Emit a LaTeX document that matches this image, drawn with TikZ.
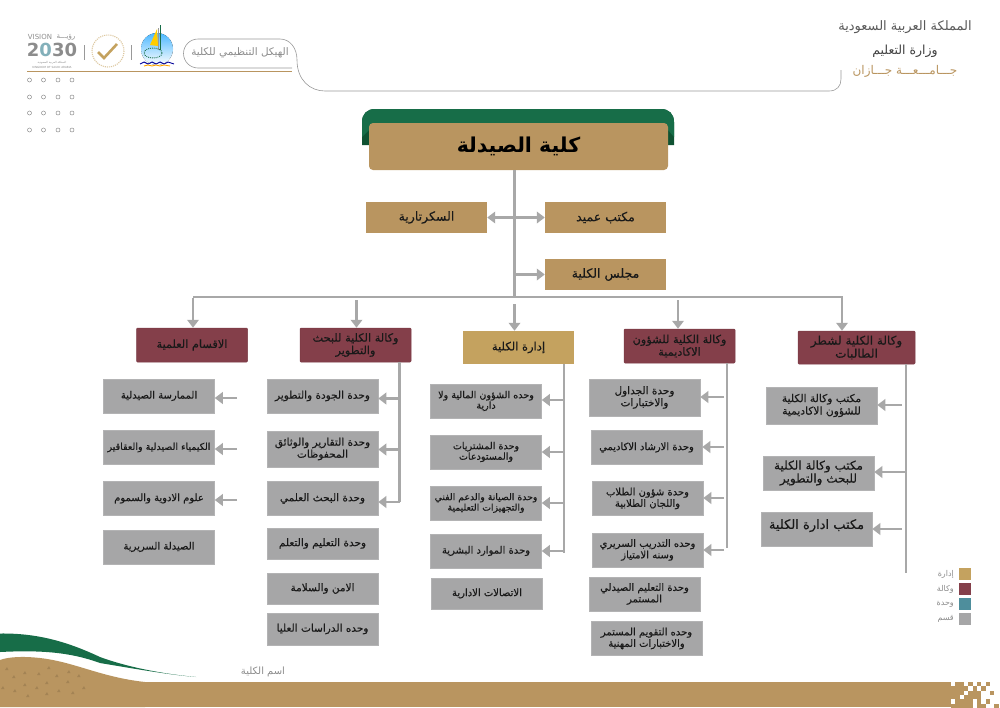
\documentclass[tikz,border=0pt]{standalone}
\usepackage{fontspec}
\setmainfont{DejaVu Sans}
\newfontfamily\arabicfont[Script=Arabic]{DejaVu Sans}
\newfontfamily\arabicheavy[Script=Arabic,FakeBold=0.35]{DejaVu Sans}
\TeXXeTstate=1
\usetikzlibrary{arrows.meta}
\definecolor{tanbox}{HTML}{B99560}
\definecolor{goldbox}{HTML}{C4A25F}
\definecolor{maroonbox}{HTML}{843F4A}
\definecolor{tealbox}{HTML}{4E8E9C}
\definecolor{graybox}{HTML}{A6A6A7}
\definecolor{linkgray}{HTML}{A8A8A8}
\definecolor{darkgreen}{HTML}{176D48}
\definecolor{deepgreen}{HTML}{0F5232}
\definecolor{softtext}{HTML}{8C8C8C}
\newcommand{\artxt}[1]{\arabicfont\beginR #1\endR}
\newcommand{\arhvy}[1]{\arabicheavy\beginR #1\endR}
\tikzset{
    box/.style={rectangle,inner sep=0pt,minimum width=111pt,minimum height=34pt,align=center,text=black!90,font=\fontsize{10}{11.5}\selectfont},
    tanitem/.style={box,fill=tanbox,minimum width=121pt,minimum height=31pt,font=\fontsize{12.5}{14}\selectfont},
    graph/.style={box,fill=graybox,draw=graybox!85!white,line width=0.5pt},
    wakala/.style={box,fill=maroonbox,draw=maroonbox!92!black,line width=0.5pt,rounded corners=1pt,font=\fontsize{11.3}{12.5}\selectfont},
    link/.style={draw=linkgray,line width=2.7pt},
    arrow/.style={link,-{Triangle[length=8pt,width=11.5pt]}},
    swatch/.style={rectangle,inner sep=0pt,minimum width=12pt,minimum height=12pt},
    keytext/.style={anchor=east,inner sep=0pt,text=softtext,font=\fontsize{8}{10}\selectfont},
    softline/.style={draw=black!40,line width=0.6pt}
}
\begin{document}
\begin{tikzpicture}[x=1pt,y=-1pt]
    \useasboundingbox (0,0) rectangle (1000,707);

    % header
    \draw[softline] (292,68) -- (198,68) arc[start angle=90,end angle=270,radius=14.5] -- (280,39) .. controls (290,39) and (297,48) .. (297,60) .. controls (297,80) and (310,91) .. (325,91) -- (829,91) .. controls (837,91) and (841,86) .. (841,79) -- (841,70);
    \draw[draw=tanbox,line width=0.9pt] (27,71) -- (292,71);
    \node[text=softtext,font=\fontsize{10.4}{12}\selectfont] (chart) at (240,53) {\artxt{الهيكل التنظيمي للكلية}};
    \foreach \px in {29.5,43.5,58,72}
        \foreach \py in {80,97,113,130}
            \draw[draw=black!45,line width=0.5pt] (\px,\py) circle[radius=2];

    % logos
    \node[text=softtext,font=\fontsize{7}{8}\selectfont] (vision) at (40,37) {VISION};
    \node[text=softtext,font=\fontsize{7}{8}\selectfont] (visionar) at (66,37) {\artxt{رؤيـــة}};
    \node[text=softtext,font=\fontsize{18}{19}\bfseries\selectfont,inner sep=0pt] (visionyear) at (52,50) {2{\color{tealbox!70}0}30};
    \node[text=softtext,font=\fontsize{2.8}{3.2}\selectfont,inner sep=0pt] (visionsub) at (52,62.5) {\artxt{المملكة العربية السعودية}};
    \node[text=softtext,font=\fontsize{2.8}{3.2}\selectfont,inner sep=0pt] (visionsubb) at (52,67) {KINGDOM OF SAUDI ARABIA};
    \draw[draw=black!40,line width=0.6pt] (84.5,45) -- (84.5,60);
    \draw[draw=black!40,line width=0.6pt] (131.5,45) -- (131.5,60);
    \draw[draw=goldbox!60,line width=1.1pt,densely dotted] (108,51) circle[radius=16];
    \draw[draw=goldbox,line width=2.6pt] (98,52) -- (104,58) -- (117,44);
    \fill[top color=cyan!60!blue!70,bottom color=white] (157,49) circle[radius=16];
    \fill[orange!40!yellow] (157,29) -- (150,45) -- (158,46) -- cycle;
    \draw[draw=darkgreen,line width=1pt] (160.5,25) -- (160.5,50);
    \draw[draw=black!40,line width=1pt] (158,28) -- (158,50);
    \draw[draw=darkgreen,line width=0.9pt,densely dotted] (153,53) ellipse[x radius=9,y radius=5];
    \draw[draw=blue!60!black,line width=0.9pt] (140,64) -- (144,62) -- (148,64) -- (152,62) -- (156,64) -- (160,62) -- (164,64) -- (168,62) -- (174,64);
    \draw[draw=orange!70!yellow,line width=0.9pt] (144,66) -- (148,65) -- (152,66) -- (156,65) -- (160,66) -- (164,65) -- (170,66);

    % kingdom
    \node[text=black!65,font=\fontsize{13}{15}\selectfont] (kingdom) at (905,27) {\artxt{المملكة العربية السعودية}};
    \node[text=black!75,font=\fontsize{12.5}{14}\selectfont] (ministry) at (905,51) {\artxt{وزارة التعليم}};
    \node[text=tanbox,font=\fontsize{12}{14}\selectfont] (univ) at (905,71) {\artxt{جـــامـــعـــة جـــازان}};

    % footer
    \fill[tanbox] (0,682) rectangle (951,707);
    \foreach \cx/\cy in {1/0,2/0,4/0,6/0,8/0,0/1,1/1,2/1,3/1,5/1,7/1,0/2,1/2,2/2,4/2,5/2,6/2,9/2,0/3,1/3,3/3,4/3,5/3,6/3,1/4,2/4,3/4,4/4,6/4,8/4,0/5,1/5,2/5,3/5,4/5,6/5,7/5,10/5}
        \fill[tanbox] (951+\cx*4.33,682+\cy*4.33) rectangle ++(4.4,4.4);
    \fill[tanbox] (0,660) .. controls (8,657) and (22,656) .. (40,658) .. controls (75,662) and (100,677) .. (145,682) -- (145,707) -- (0,707) -- cycle;
    \fill[darkgreen] (0,633.5) .. controls (40,633) and (70,643) .. (100,657) .. controls (130,668) and (165,674) .. (196,677) .. controls (170,675) and (130,668) .. (100,663) .. controls (70,652) and (40,650) .. (0,652) -- cycle;
    \foreach \tx/\ty in {5/670,12/678,23/674,37/675,47/669,55/677,67/673,77/677,1/689,13/692,23/686,35/689,45/684,57/692,66/683,82/689,26/697,45/695,71/694}
        \fill[tanbox!88!black] (\tx,\ty) -- ++(2,-3) -- ++(1.5,3) -- cycle;
    \node[text=softtext,font=\fontsize{10}{11}\selectfont] (collegename) at (263,672) {\artxt{اسم الكلية}};

    % top node
    \fill[deepgreen] (362,145) -- (362,122) .. controls (362,114) and (367,109) .. (375,109) -- (661,109) .. controls (669,109) and (674,114) .. (674,122) -- (674,145) -- cycle;
    \fill[darkgreen] (362,137) -- (362,122) .. controls (362,114) and (367,109) .. (375,109) -- (661,109) .. controls (669,109) and (674,114) .. (674,122) -- (674,137) -- (668,130) -- (369,130) -- cycle;
    \node[fill=tanbox,rectangle,rounded corners=4pt,inner sep=0pt,minimum width=299pt,minimum height=47pt,text=black,font=\fontsize{20.5}{22}\bfseries\selectfont] (college) at (518.5,146.5) {\artxt{كلية الصيدلة}};

    % dean level
    \node[tanitem] (secretary) at (426.5,217.5) {\arhvy{السكرتارية}};
    \node[tanitem] (dean) at (605.5,217.5) {\arhvy{مكتب عميد}};
    \node[tanitem] (council) at (605.5,274.5) {\arhvy{مجلس الكلية}};

    % main level
    \node[wakala] (depts) at (192,345) {\arhvy{الاقسام العلمية}};
    \node[wakala] (research) at (355.5,345) {\arhvy{وكالة الكلية للبحث}\\\arhvy{والتطوير}};
    \node[box,fill=goldbox,minimum height=33pt,font=\fontsize{11.5}{13}\selectfont] (admin) at (518.5,347.5) {\arhvy{إدارة الكلية}};
    \node[wakala] (academic) at (679.5,346) {\arhvy{وكالة  الكلية للشؤون}\\\arhvy{الاكاديمية}};
    \node[wakala,minimum width=117pt,minimum height=33pt,font=\fontsize{12}{13}\selectfont] (female) at (856.5,347.5) {\arhvy{وكالة الكلية لشطر}\\\arhvy{الطالبات}};

    % departments
    \node[graph] (pharmacy) at (159,396) {\arhvy{الممارسة الصيدلية}};
    \node[graph,font=\fontsize{9.5}{11}\selectfont] (chemistry) at (159,447.5) {\arhvy{الكيمياء الصيدلية والعقاقير}};
    \node[graph] (toxicology) at (159,498.5) {\arhvy{علوم الادوية والسموم}};
    \node[graph] (clinical) at (159,547) {\arhvy{الصيدلة السريرية}};

    % research units
    \node[graph,font=\fontsize{10.5}{12}\selectfont] (quality) at (322.5,396) {\arhvy{وحدة الجودة والتطوير}};
    \node[graph,minimum height=36pt,font=\fontsize{10.5}{12}\selectfont] (reports) at (322.5,449) {\arhvy{وحدة التقارير والوثائق}\\\arhvy{المحفوظات}};
    \node[graph,font=\fontsize{10.5}{12}\selectfont] (science) at (322.5,498.5) {\arhvy{وحدة البحث العلمي}};
    \node[graph,minimum height=31pt,font=\fontsize{10.5}{12}\selectfont] (teaching) at (322.5,543.5) {\arhvy{وحدة التعليم والتعلم}};
    \node[graph,minimum height=31pt,font=\fontsize{10.5}{12}\selectfont] (safety) at (322.5,588.5) {\arhvy{الامن والسلامة}};
    \node[graph,minimum height=32pt,font=\fontsize{10.5}{12}\selectfont] (graduate) at (322.5,629) {\arhvy{وحده الدراسات العليا}};

    % admin units
    \node[graph,font=\fontsize{9.6}{10.5}\selectfont] (finance) at (486,401) {\arhvy{وحده الشؤون المالية ولا}\\\arhvy{دارية}};
    \node[graph,font=\fontsize{9.6}{10.5}\selectfont] (purchase) at (486,452) {\arhvy{وحدة المشتريات}\\\arhvy{والمستودعات}};
    \node[graph,font=\fontsize{9.3}{10.5}\selectfont] (maintain) at (486,503) {\arhvy{وحدة الصيانة والدعم الفني}\\\arhvy{والتجهيزات التعليمية}};
    \node[graph] (hr) at (486,551) {\arhvy{وحدة الموارد البشرية}};
    \node[graph,minimum height=31pt] (comms) at (487,593.5) {\arhvy{الاتصالات الادارية}};

    % academic units
    \node[graph,minimum height=37pt,font=\fontsize{10.5}{12}\selectfont] (timetable) at (644.5,397.5) {\arhvy{وحدة الجداول}\\\arhvy{والاختبارات}};
    \node[graph] (advising) at (646.5,447.5) {\arhvy{وحدة الارشاد الاكاديمي}};
    \node[graph] (students) at (647.5,498.5) {\arhvy{وحدة شؤون الطلاب}\\\arhvy{واللجان الطلابية}};
    \node[graph] (training) at (647.5,550) {\arhvy{وحده التدريب السريري}\\\arhvy{وسنه الامتياز}};
    \node[graph] (continuing) at (644.5,594) {\arhvy{وحدة التعليم الصيدلي}\\\arhvy{المستمر}};
    \node[graph] (assess) at (646.5,638.5) {\arhvy{وحده التقويم المستمر}\\\arhvy{والاختبارات المهنية}};

    % female offices
    \node[graph,minimum height=37pt,font=\fontsize{10.7}{12.5}\selectfont] (officea) at (821.5,405.5) {\arhvy{مكتب وكالة الكلية}\\\arhvy{للشؤون الاكاديمية}};
    \node[graph,font=\fontsize{12}{13}\selectfont] (officeb) at (818.5,473) {\arhvy{مكتب وكالة الكلية}\\\arhvy{للبحث والتطوير}};
    \node[graph,font=\fontsize{13}{14}\selectfont,text depth=10pt] (officec) at (816.5,529) {\arhvy{مكتب ادارة الكلية}};

    % legend
    \node[swatch,fill=goldbox] (keya) at (965,574) {};
    \node[swatch,fill=maroonbox] (keyb) at (965,589) {};
    \node[swatch,fill=tealbox] (keyc) at (965,604) {};
    \node[swatch,fill=graybox] (keyd) at (965,619) {};
    \node[keytext] (labela) at (954,574) {\artxt{إدارة}};
    \node[keytext] (labelb) at (954,589) {\artxt{وكالة}};
    \node[keytext] (labelc) at (954,604) {\artxt{وحدة}};
    \node[keytext] (labeld) at (954,619) {\artxt{قسم}};

    % free ends
    \coordinate (trunk) at (514.5,297);
    \coordinate (barleft) at (193,297);
    \coordinate (barright) at (843,297);
    \coordinate (deanjoin) at (514.5,274.5);
    \coordinate (fromdepts) at (193,298);
    \coordinate (fromresearch) at (356.5,300);
    \coordinate (fromadmin) at (514.5,304);
    \coordinate (fromacademic) at (678,300);
    \coordinate (fromfemale) at (842,298);
    \coordinate (researchend) at (399.5,502);
    \coordinate (adminend) at (564,553);
    \coordinate (academicend) at (727,548);
    \coordinate (femaleend) at (906,573);

    \draw[link] (college.south -| trunk) -- (trunk);
    \draw[link] (barleft) -- (barright);
    \draw[arrow,{Triangle[length=8pt,width=11.5pt]}-{Triangle[length=8pt,width=11.5pt]}] (secretary.east) -- (dean.west);
    \draw[arrow] (deanjoin) -- (deanjoin -| council.west);

    \draw[arrow] (fromdepts) -- (fromdepts |- depts.north);
    \draw[arrow] (fromresearch) -- (fromresearch |- research.north);
    \draw[arrow] (fromadmin) -- (fromadmin |- admin.north);
    \draw[arrow] (fromacademic) -- (fromacademic |- academic.north);
    \draw[arrow] (fromfemale) -- (fromfemale |- female.north);

    % left stubs
    \coordinate (stuba) at (237,398);
    \coordinate (stubb) at (237,449);
    \coordinate (stubc) at (237,500);
    \draw[arrow] (stuba) -- (stuba -| pharmacy.east);
    \draw[arrow] (stubb) -- (stubb -| chemistry.east);
    \draw[arrow] (stubc) -- (stubc -| toxicology.east);

    % research branch
    \coordinate (tapa) at (399.5,398.5);
    \coordinate (tapb) at (399.5,449.5);
    \draw[link] (researchend |- research.south) -- (researchend);
    \draw[arrow] (tapa) -- (tapa -| quality.east);
    \draw[arrow] (tapb) -- (tapb -| reports.east);
    \draw[arrow] (researchend) -- (researchend -| science.east);

    % admin branch
    \coordinate (tapc) at (564,400);
    \coordinate (tapd) at (564,452);
    \coordinate (tape) at (564,503);
    \coordinate (tapf) at (564,551);
    \draw[link] (adminend |- admin.south) -- (adminend);
    \draw[arrow] (tapc) -- (tapc -| finance.east);
    \draw[arrow] (tapd) -- (tapd -| purchase.east);
    \draw[arrow] (tape) -- (tape -| maintain.east);
    \draw[arrow] (tapf) -- (tapf -| hr.east);

    % academic branch
    \coordinate (tapg) at (724,397);
    \coordinate (taph) at (724,447);
    \coordinate (tapi) at (724,498);
    \coordinate (tapj) at (724,550);
    \draw[link] (academicend |- academic.south) -- (academicend);
    \draw[arrow] (tapg) -- (tapg -| timetable.east);
    \draw[arrow] (taph) -- (taph -| advising.east);
    \draw[arrow] (tapi) -- (tapi -| students.east);
    \draw[arrow] (tapj) -- (tapj -| training.east);

    % female branch
    \coordinate (tapk) at (902,405);
    \coordinate (tapl) at (905,472);
    \coordinate (tapm) at (902,529);
    \draw[link] (femaleend |- female.south) -- (femaleend);
    \draw[arrow] (tapk) -- (tapk -| officea.east);
    \draw[arrow] (tapl) -- (tapl -| officeb.east);
    \draw[arrow] (tapm) -- (tapm -| officec.east);
\end{tikzpicture}
\end{document}
